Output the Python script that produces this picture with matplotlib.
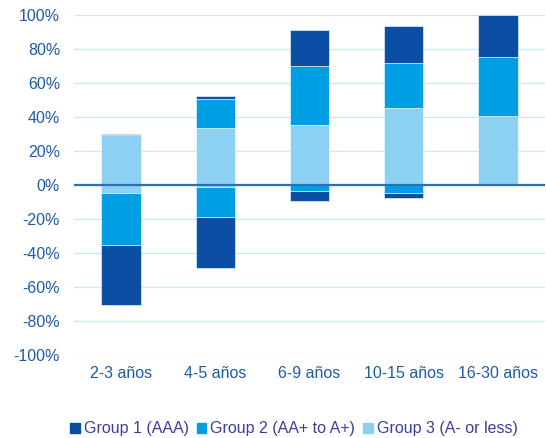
import matplotlib
matplotlib.use("Agg")
import matplotlib.pyplot as plt
import numpy as np
from matplotlib.ticker import FuncFormatter

plt.rcParams["font.family"] = ["Liberation Sans", "DejaVu Sans"]

categories = ["2-3 años", "4-5 años", "6-9 años", "10-15 años", "16-30 años"]
series = ["Group 1 (AAA)", "Group 2 (AA+ to A+)", "Group 3 (A- or less)"]

# positive parts (%)
g1_pos = [0.8, 2.0, 21.2, 21.8, 24.5]
g2_pos = [0.0, 16.7, 34.5, 26.0, 34.7]
g3_pos = [29.3, 33.7, 35.5, 45.5, 40.8]

# negative parts (%)
g1_neg = [-35.5, -30.0, -6.0, -2.7, 0.0]
g2_neg = [-30.5, -17.4, -3.5, -4.7, 0.0]
g3_neg = [-4.7, -1.2, 0.0, 0.0, 0.0]

colors = ["#0a4fa3", "#009fe3", "#8dd1f2"]
tick_color = "#1f5aa6"
legend_color = "#3d3d9e"

fig = plt.figure(figsize=(5.46, 4.38), dpi=100)
ax = fig.add_axes([74 / 546, 83 / 438, 471 / 546, 340 / 438])

x = np.arange(len(categories))
w = 0.42

pos_stack = [g3_pos, g2_pos, g1_pos]
neg_stack = [g3_neg, g2_neg, g1_neg]
col_stack = [colors[2], colors[1], colors[0]]

bottom = np.zeros(len(x))
for vals, c in zip(pos_stack, col_stack):
    ax.bar(x, vals, w, bottom=bottom, color=c, edgecolor="white", linewidth=0.4, zorder=3)
    bottom += np.array(vals)

bottom = np.zeros(len(x))
for vals, c in zip(neg_stack, col_stack):
    ax.bar(x, vals, w, bottom=bottom, color=c, edgecolor="white", linewidth=0.4, zorder=3)
    bottom += np.array(vals)

ax.axhline(0, color="#2f6db5", linewidth=1.6, zorder=4)

ax.set_xlim(-0.5, len(x) - 0.5)
ax.set_ylim(-100, 100)
ax.set_yticks(np.arange(-100, 101, 20))
ax.yaxis.set_major_formatter(FuncFormatter(lambda v, p: f"{v:.0f}%"))
ax.set_xticks(x)
ax.set_xticklabels(categories)
ax.grid(axis="y", color="#c9e9f8", linewidth=1.0, zorder=0)
ax.set_axisbelow(True)
for s in ax.spines.values():
    s.set_visible(False)
ax.tick_params(axis="y", length=0, pad=10, labelsize=11.5, labelcolor=tick_color)
ax.tick_params(axis="x", length=0, pad=8, labelsize=11.5, labelcolor=tick_color)

handles = [plt.Rectangle((0, 0), 1, 1, color=c) for c in colors]
leg = fig.legend(handles, series, loc="center", bbox_to_anchor=(294 / 546, 1 - 429 / 438),
                 ncol=3, frameon=False, fontsize=11.5, handlelength=0.6, handleheight=0.6,
                 handletextpad=0.25, columnspacing=0.5, borderaxespad=0)
for t in leg.get_texts():
    t.set_color(legend_color)

fig.savefig("out.png", dpi=100)
